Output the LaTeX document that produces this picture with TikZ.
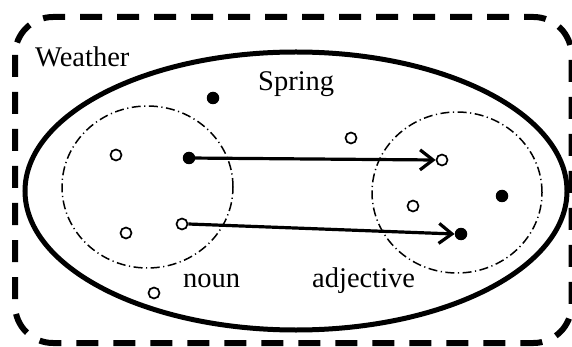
\documentclass[tikz,border=0pt]{standalone}
\usepackage{fontspec}
\setmainfont{Liberation Serif}
\usetikzlibrary{arrows.meta}
\begin{document}
\begin{tikzpicture}[x=1pt,y=-1pt,
  lbl/.style={anchor=base west,inner sep=0pt,font=\fontsize{28.5}{30}\selectfont},
  fdot/.style={circle,fill=black,inner sep=0pt,minimum size=12.5pt},
  odot/.style={circle,draw=black,fill=white,line width=1.7pt,inner sep=0pt,minimum size=11pt},
  domainline/.style={line width=1.5pt,dash pattern=on 9pt off 3.5pt on 1.2pt off 3.5pt},
  mapArrow/.style={line width=3.2pt,-{Straight Barb[length=13pt,width=20pt,line width=3.2pt]}}
]
\useasboundingbox (0,0) rectangle (572,347);
% outer dashed rounded rectangle
\draw[line width=6pt,dash pattern=on 22pt off 15pt,rounded corners=38pt] (15,17) rectangle (571.5,343);
% Spring ellipse
\draw[line width=5pt] (296,191) ellipse [x radius=271pt,y radius=139pt];
% domain circles
\draw[domainline] (147.5,187) ellipse [x radius=85.5pt,y radius=81pt];
\draw[domainline] (457,192.5) ellipse [x radius=85pt,y radius=80.5pt];
% labels
\node[lbl] (weather) at (35,67) {Weather};
\node[lbl] (spring) at (258,91) {Spring};
\node[lbl] (noun) at (183,287) {noun};
\node[lbl] (adj) at (312,287) {adjective};
% points
\node[fdot] (f1) at (213,98) {};
\node[fdot] (f2) at (189,158) {};
\node[fdot] (f3) at (502,196) {};
\node[fdot] (f4) at (461,234) {};
\node[odot] (o1) at (116,155) {};
\node[odot] (o2) at (351,138) {};
\node[odot] (o3) at (442,160) {};
\node[odot] (o4) at (126,233) {};
\node[odot] (o5) at (182,224) {};
\node[odot] (o6) at (154,293) {};
\node[odot] (o7) at (413,206) {};
% arrows
\draw[mapArrow] (f2.center) -- (o3.west);
\draw[mapArrow] (o5.east) -- (f4.west);
\end{tikzpicture}
\end{document}
